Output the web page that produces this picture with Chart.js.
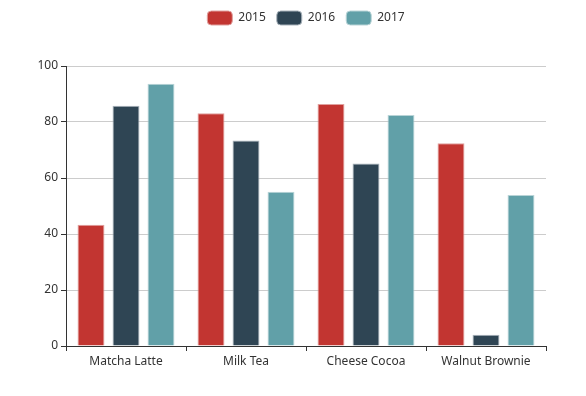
<!DOCTYPE html>
<html>
<head>
<meta charset="utf-8">
<script src="https://cdn.jsdelivr.net/npm/chart.js@4.4.0/dist/chart.umd.min.js"></script>
<style>
  html, body { margin: 0; padding: 0; background: #fff; }
  #wrap { width: 586px; height: 396px; }
</style>
</head>
<body>
<div id="wrap"><canvas id="barChart" width="586" height="396"></canvas></div>
<script>
// Product sales by year
const categories = ['Matcha Latte', 'Milk Tea', 'Cheese Cocoa', 'Walnut Brownie'];
const years = ['2015', '2016', '2017'];
const sales2015 = [43.3, 83.1, 86.4, 72.4];
const sales2016 = [85.8, 73.4, 65.2, 4.0];
const sales2017 = [93.7, 55.1, 82.5, 53.9];
const yTicks = [0, 20, 40, 60, 80, 100];

const COLORS = ['#c23531', '#2f4554', '#61a0a8'];
const BORDERS = ['#e0a09e', '#a9b3bb', '#b9d4d7'];
const FONT = { family: '"Noto Sans", "Open Sans", sans-serif', size: 12 };

const seriesValues = [sales2015, sales2016, sales2017];

const datasets = years.map(function(year, i) {
    return {
        label: year,
        data: seriesValues[i],
        backgroundColor: COLORS[i],
        borderColor: BORDERS[i],
        borderWidth: 1,
        categoryPercentage: 0.875,
        barPercentage: 0.77
    };
});

// push the plot area down below the legend
const legendSpace = {
    id: 'legendSpace',
    afterInit: function(chart) {
        const legend = chart.legend;
        if (!legend) return;
        const origFit = legend.fit;
        legend.fit = function() {
            origFit.call(this);
            this.height += 31;
        };
    }
};

new Chart(document.getElementById('barChart'), {
    type: 'bar',
    data: { labels: categories, datasets: datasets },
    plugins: [legendSpace],
    options: {
        responsive: false,
        animation: false,
        layout: { padding: { left: 26, right: 0, top: 0, bottom: 0 } },
        plugins: {
            tooltip: { enabled: false },
            legend: {
                position: 'top',
                labels: {
                    boxWidth: 25,
                    boxHeight: 14,
                    useBorderRadius: true,
                    borderRadius: 4,
                    padding: 11,
                    color: '#333',
                    font: FONT
                }
            }
        },
        scales: {
            x: {
                offset: true,
                grid: {
                    display: true,
                    offset: true,
                    drawOnChartArea: false,
                    drawTicks: true,
                    tickLength: 5,
                    tickColor: '#333'
                },
                border: { color: '#333', width: 1 },
                ticks: { color: '#333', font: FONT, padding: 3 },
                afterFit: function(scale) { scale.height = 50; }
            },
            y: {
                min: 0,
                max: 100,
                afterBuildTicks: function(scale) {
                    scale.ticks = yTicks.map(function(v) { return { value: v }; });
                },
                grid: {
                    color: '#ccc',
                    tickColor: '#333',
                    tickLength: 5
                },
                border: { color: '#333', width: 1 },
                ticks: { color: '#333', font: FONT, padding: 3 },
                afterFit: function(scale) { scale.width = 40; }
            },
            yRight: {
                position: 'right',
                min: 0,
                max: 100,
                grid: { display: false },
                border: { display: false },
                ticks: { display: false },
                afterFit: function(scale) { scale.width = 40; }
            }
        }
    }
});
</script>
</body>
</html>
